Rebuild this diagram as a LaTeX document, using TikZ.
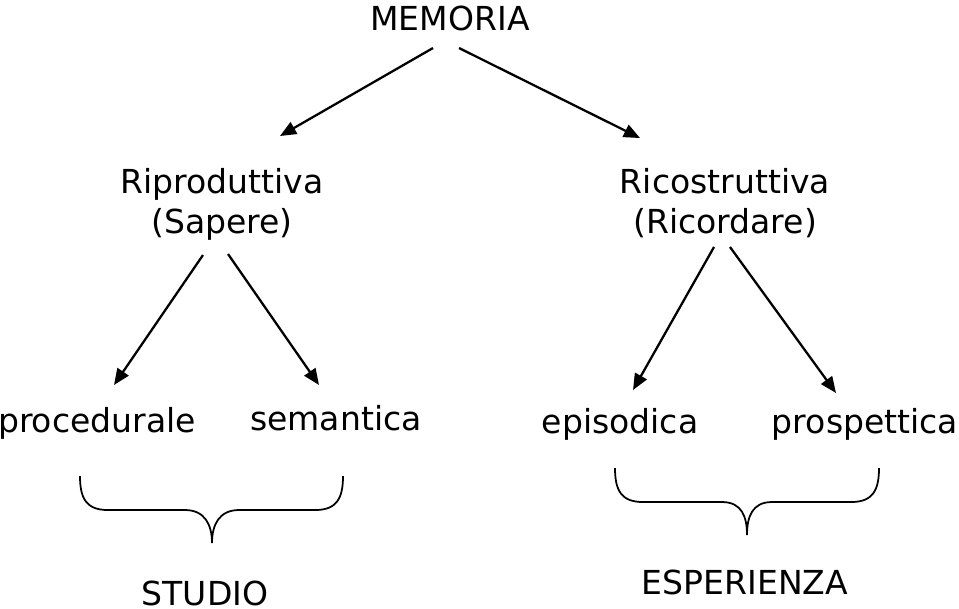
\documentclass[tikz,border=0pt]{standalone}
\usepackage{fontspec}
\setmainfont{DejaVu Sans}
\usepackage{tikz}
\usetikzlibrary{arrows.meta, positioning, calc}

\tikzset{
    lbl/.style={inner sep=0pt, anchor=base, align=center,
                font=\fontsize{9.4pt}{11.2pt}\selectfont},
    arr/.style={line width=0.65pt, -{Triangle[length=4.6pt, width=3.8pt]}},
    brace/.style={line width=0.5pt}
}

\begin{document}
\begin{tikzpicture}
    \useasboundingbox (0,0) rectangle (9.59,-6.08);

    % labels
    \node[lbl] (memoria) at (4.50,-0.30) {MEMORIA};
    \node[lbl] (ripr) at (2.22,-2.33) {Riproduttiva\\(Sapere)};
    \node[lbl] (ricos) at (7.25,-2.33) {Ricostruttiva\\(Ricordare)};
    \node[lbl] (proc) at (0.97,-4.32) {procedurale};
    \node[lbl] (sem) at (3.36,-4.30) {semantica};
    \node[lbl] (epis) at (6.20,-4.33) {episodica};
    \node[lbl] (prosp) at (8.65,-4.33) {prospettica};
    \node[lbl] (studio) at (2.05,-6.05) {STUDIO};
    \node[lbl] (esper) at (7.45,-5.94) {ESPERIENZA};

    % arrow ends
    \coordinate (m1) at (4.33,-0.48);
    \coordinate (m2) at (4.59,-0.48);
    \coordinate (r1) at (2.03,-2.55);
    \coordinate (r2) at (2.28,-2.54);
    \coordinate (c1) at (7.14,-2.47);
    \coordinate (c2) at (7.30,-2.47);
    \coordinate (ripr-in) at (2.80,-1.36);
    \coordinate (ricos-in) at (6.40,-1.38);
    \coordinate (proc-in) at (1.14,-3.85);
    \coordinate (sem-in) at (3.19,-3.85);
    \coordinate (epis-in) at (6.33,-3.90);
    \coordinate (prosp-in) at (8.36,-3.93);

    \draw[arr] (m1) -- (ripr-in);
    \draw[arr] (m2) -- (ricos-in);
    \draw[arr] (r1) -- (proc-in);
    \draw[arr] (r2) -- (sem-in);
    \draw[arr] (c1) -- (epis-in);
    \draw[arr] (c2) -- (prosp-in);

    % braces
    \draw[brace] (0.80,-4.76) .. controls (0.80,-4.98) and (0.86,-5.10) .. (1.08,-5.10)
        -- (1.85,-5.10) .. controls (2.05,-5.10) and (2.12,-5.25) .. (2.12,-5.43)
        .. controls (2.12,-5.25) and (2.19,-5.10) .. (2.39,-5.10)
        -- (3.15,-5.10) .. controls (3.37,-5.10) and (3.43,-4.98) .. (3.43,-4.76);
    \draw[brace] (6.15,-4.68) .. controls (6.15,-4.90) and (6.21,-5.02) .. (6.43,-5.02)
        -- (7.22,-5.02) .. controls (7.42,-5.02) and (7.47,-5.17) .. (7.47,-5.35)
        .. controls (7.47,-5.17) and (7.52,-5.02) .. (7.72,-5.02)
        -- (8.51,-5.02) .. controls (8.73,-5.02) and (8.79,-4.90) .. (8.79,-4.68);
\end{tikzpicture}
\end{document}
